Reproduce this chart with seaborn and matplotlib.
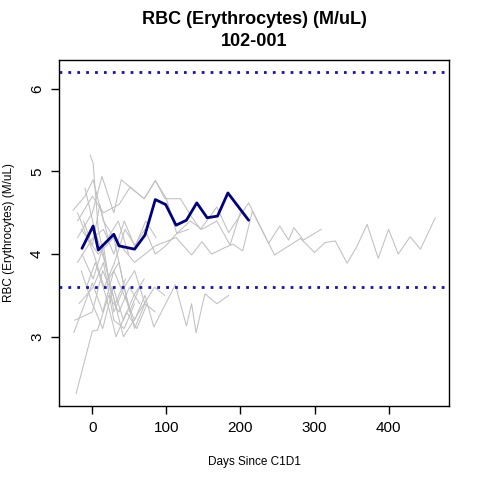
import numpy as np
import pandas as pd
import matplotlib
matplotlib.use("Agg")
import matplotlib.pyplot as plt
import seaborn as sns

# highlighted subject 102-001
subj_days = [-14, 1, 8, 29, 36, 57, 71, 85, 99, 113, 127, 141, 155, 169, 183, 211]
subj_rbc = [4.07, 4.34, 4.05, 4.24, 4.10, 4.06, 4.23, 4.66, 4.60, 4.35, 4.41, 4.62, 4.44, 4.46, 4.74, 4.41]

# other subjects (background)
other_days = [
    [-15, 8, 29, 57, 85, 113, 134, 148, 161, 179, 190, 203, 216, 246, 260, 281, 300, 314, 328, 344, 357, 371, 386, 400, 413, 429, 443, 463],
    [-20, 0, 15, 36, 51, 70, 85, 98, 119, 134, 146, 168, 184, 211, 238, 253, 265, 272, 285, 309],
    [-20, 1, 15, 29, 43, 57, 71, 85, 99, 114, 132, 148, 168, 186, 200],
    [-22, 0, 7, 22, 36, 50, 64],
    [-3, 1, 8, 22, 36, 50, 64],
    [-25, 0, 14, 29, 43, 57, 71, 83, 112, 127, 134, 140, 152, 168, 184],
    [-26, -10, 1, 15, 29, 43, 57, 71],
    [-20, 0, 13, 29, 39, 51, 70, 85, 100, 114, 130],
    [-18, 1, 15, 29, 43, 57],
    [-15, 0, 14, 28, 42, 56, 70],
    [-20, 2, 16, 30, 44, 58, 72, 86],
    [-10, 3, 17, 31, 45],
    [-24, 0, 14, 28, 42, 56, 70, 84, 98],
    [-14, 1, 15, 29, 43, 57, 71, 85],
    [-12, 0, 10, 21, 35, 49],
    [-8, 4, 18, 32, 46, 60, 74],
]
other_rbc = [
    [4.30, 4.00, 4.20, 3.90, 4.10, 4.20, 3.99, 4.15, 4.00, 4.08, 4.12, 4.04, 4.52, 3.99, 4.07, 4.19, 4.02, 4.14, 4.16, 3.89, 4.09, 4.36, 3.95, 4.30, 4.00, 4.21, 4.06, 4.44],
    [4.40, 4.70, 4.50, 4.60, 4.81, 4.67, 4.89, 4.67, 4.67, 4.45, 4.30, 4.57, 4.26, 4.62, 4.13, 4.34, 4.17, 4.32, 4.17, 4.30],
    [3.90, 4.20, 4.30, 4.00, 4.40, 4.10, 4.30, 4.00, 4.10, 4.25, 4.40, 4.30, 4.40, 4.11, 4.51],
    [2.31, 3.07, 3.08, 3.50, 3.30, 3.60, 3.40],
    [5.20, 5.10, 4.30, 3.70, 3.90, 3.30, 3.60],
    [3.05, 3.65, 3.30, 3.80, 3.50, 3.20, 3.50, 3.12, 3.63, 3.13, 3.40, 3.05, 3.52, 3.40, 3.50],
    [4.53, 4.70, 4.90, 4.40, 4.20, 3.60, 3.80, 3.40],
    [4.20, 4.50, 4.94, 4.50, 4.90, 4.81, 4.67, 4.89, 4.67, 4.25, 4.30],
    [3.40, 3.60, 3.90, 3.20, 3.10, 3.40],
    [3.80, 3.40, 3.10, 3.60, 3.20, 3.50, 3.70],
    [4.50, 4.00, 3.60, 3.90, 4.30, 4.10, 4.40, 4.20],
    [4.80, 4.30, 3.90, 3.40, 3.70],
    [3.20, 3.30, 3.80, 3.50, 3.00, 3.20, 3.40, 3.60, 3.50],
    [4.00, 3.70, 4.10, 3.30, 3.60, 3.10, 3.40, 3.30],
    [4.40, 4.10, 4.60, 4.20, 4.40, 4.00],
    [3.60, 3.90, 3.50, 3.00, 3.30, 3.10, 3.40],
]

ref_low = 3.6
ref_high = 6.2

rows = []
for i, (d, v) in enumerate(zip(other_days, other_rbc)):
    for dd, vv in zip(d, v):
        rows.append({"subject": f"s{i}", "day": dd, "rbc": vv})
others = pd.DataFrame(rows)
subj = pd.DataFrame({"day": subj_days, "rbc": subj_rbc})

sns.set_style("ticks")
plt.rcParams['font.family'] = ['Liberation Sans', 'DejaVu Sans']
plt.rcParams['text.color'] = 'black'
plt.rcParams['axes.labelcolor'] = 'black'
plt.rcParams['xtick.color'] = 'black'
plt.rcParams['ytick.color'] = 'black'

fig = plt.figure(figsize=(4.8, 4.8), dpi=100)
ax = fig.add_axes([0.1236, 0.154, 0.8125, 0.722])

sns.lineplot(data=others, x="day", y="rbc", units="subject", estimator=None,
             color="#c0c0c0", linewidth=0.75, sort=False, ax=ax, legend=False)
sns.lineplot(data=subj, x="day", y="rbc", estimator=None, color="#000080",
             linewidth=2.0, sort=False, ax=ax)

ax.axhline(ref_high, color="#1414b4", linestyle=(0, (1, 2.2)), linewidth=2)
ax.axhline(ref_low, color="#1414b4", linestyle=(0, (1, 2.2)), linewidth=2)

ax.set_xlim(-44.6, 482)
ax.set_ylim(2.162, 6.354)
ax.set_xticks([0, 100, 200, 300, 400])
ax.set_yticks([3, 4, 5, 6])
ax.tick_params(direction="out", length=6, width=1, labelsize=11, pad=5)
for lab in ax.get_yticklabels():
    lab.set_rotation(90)
    lab.set_va("center")
for s in ax.spines.values():
    s.set_visible(True)
    s.set_color("black")
    s.set_linewidth(1)

ax.set_xlabel("Days Since C1D1", fontsize=8.5, labelpad=15)
ax.set_ylabel("RBC (Erythrocytes) (M/uL)", fontsize=8.5, labelpad=11)
ax.set_title("RBC (Erythrocytes) (M/uL)\n102-001", fontsize=13, fontweight="bold",
             linespacing=1.35, pad=10)

fig.savefig("out.png", dpi=100)
